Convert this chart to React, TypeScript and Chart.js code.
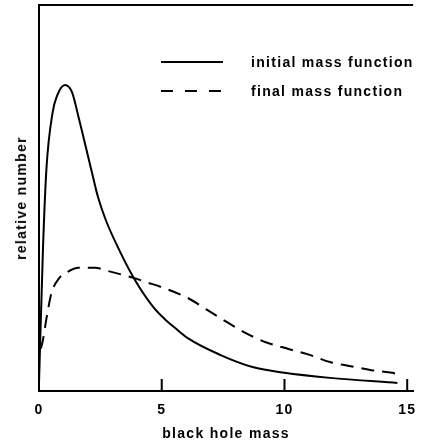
import React, { useEffect, useRef } from "react";
import { Chart, registerables } from "chart.js";

Chart.register(...registerables);

// ---- data ----
const initialMass = [0.0, 0.16, 0.3, 0.55, 0.75, 1.06, 1.34, 1.61, 2.13, 2.4, 2.72, 3.27, 3.86, 4.65, 5.16, 5.55, 6.06, 7.4, 8.7, 10.0, 11.85, 14.6];
const initialValue = [0.02, 0.365, 0.573, 0.72, 0.767, 0.793, 0.775, 0.71, 0.573, 0.503, 0.443, 0.365, 0.293, 0.218, 0.184, 0.163, 0.137, 0.093, 0.062, 0.047, 0.034, 0.021];

const finalMass = [0.08, 0.16, 0.31, 0.51, 0.83, 1.1, 1.61, 2.28, 2.8, 3.46, 3.86, 4.37, 5.08, 6.06, 6.85, 7.64, 8.43, 9.21, 10.16, 11.06, 11.85, 12.64, 13.54, 14.4, 14.6];
const finalValue = [0.11, 0.132, 0.19, 0.254, 0.293, 0.306, 0.319, 0.319, 0.311, 0.3, 0.293, 0.282, 0.267, 0.241, 0.21, 0.179, 0.15, 0.127, 0.109, 0.093, 0.075, 0.065, 0.054, 0.047, 0.044];

const seriesNames = ["initial mass function", "final mass function"];
const xTickValues = [0, 5, 10, 15];
const xTitle = "black hole mass";
const yTitle = "relative number";

const FONT = "'Liberation Sans', Arial, Helvetica, sans-serif";
const SPACING = "1.3px";

const zip = (xs: number[], ys: number[]) => xs.map((x, i) => ({ x, y: ys[i] }));

const framePlugin = {
  id: "frame",
  beforeDraw(chart: any) {
    chart.ctx.letterSpacing = SPACING;
  },
  afterDraw(chart: any) {
    const ctx = chart.ctx;
    const { left, right, top, bottom } = chart.chartArea;
    const xs = chart.scales.x;
    ctx.save();
    ctx.strokeStyle = "#000";
    ctx.lineWidth = 2;
    // top border
    ctx.beginPath();
    ctx.moveTo(left, top);
    ctx.lineTo(right, top);
    ctx.stroke();
    // inward tick marks
    xTickValues.forEach((v) => {
      if (v === 0) return;
      const px = xs.getPixelForValue(v);
      ctx.beginPath();
      ctx.moveTo(px, bottom);
      ctx.lineTo(px, bottom - 12);
      ctx.stroke();
    });
    // legend
    const lx0 = 161;
    const lx1 = 223;
    const rows = [62, 91];
    rows.forEach((ry, i) => {
      ctx.setLineDash(i === 0 ? [] : [12, 12]);
      ctx.beginPath();
      ctx.moveTo(lx0, ry);
      ctx.lineTo(lx1, ry);
      ctx.stroke();
    });
    ctx.setLineDash([]);
    ctx.fillStyle = "#000";
    ctx.font = `bold 14px ${FONT}`;
    ctx.letterSpacing = SPACING;
    ctx.textAlign = "left";
    ctx.textBaseline = "middle";
    rows.forEach((ry, i) => {
      ctx.fillText(seriesNames[i], 251, ry + 1);
    });
    ctx.restore();
  },
};

export default function App() {
  const ref = useRef<HTMLCanvasElement | null>(null);
  useEffect(() => {
    if (!ref.current) return;
    const chart = new Chart(ref.current, {
      type: "line",
      data: {
        datasets: [
          {
            label: seriesNames[0],
            data: zip(initialMass, initialValue),
            borderColor: "#000",
            borderWidth: 2,
            pointRadius: 0,
            cubicInterpolationMode: "monotone",
            fill: false,
          },
          {
            label: seriesNames[1],
            data: zip(finalMass, finalValue),
            borderColor: "#000",
            borderWidth: 2,
            borderDash: [13, 8],
            pointRadius: 0,
            cubicInterpolationMode: "monotone",
            fill: false,
          },
        ],
      },
      options: {
        animation: false,
        responsive: true,
        maintainAspectRatio: false,
        layout: { padding: { top: 5, right: 0, left: 0, bottom: 0 } },
        plugins: { legend: { display: false }, tooltip: { enabled: false } },
        scales: {
          x: {
            type: "linear",
            min: 0,
            max: 15.24,
            afterFit: (s: any) => {
              s.height = 55;
            },
            afterBuildTicks: (s: any) => {
              s.ticks = xTickValues.map((v) => ({ value: v }));
            },
            grid: { display: false, drawTicks: false },
            border: { display: true, color: "#000", width: 2 },
            ticks: {
              color: "#000",
              padding: 11,
              font: { family: FONT, size: 14, weight: "bold" },
              maxRotation: 0,
            },
            title: {
              display: true,
              text: xTitle,
              color: "#000",
              font: { family: FONT, size: 14, weight: "bold" },
              padding: { top: 0, bottom: 3 },
            },
          },
          y: {
            type: "linear",
            min: 0,
            max: 1,
            afterFit: (s: any) => {
              s.width = 39;
            },
            grid: { display: false, drawTicks: false },
            border: { display: true, color: "#000", width: 2 },
            ticks: { display: false },
            title: { display: false, text: yTitle },
          },
        },
      },
      plugins: [framePlugin],
    } as any);
    return () => chart.destroy();
  }, []);
  return (
    <div style={{ position: "fixed", left: 0, top: 0, width: 426, height: 446, background: "#fff" }}>
      <canvas ref={ref} />
      <div
        style={{
          position: "absolute",
          left: 21,
          top: 198,
          transform: "translate(-50%, -50%) rotate(-90deg)",
          whiteSpace: "nowrap",
          font: `bold 14px ${FONT}`,
          letterSpacing: SPACING,
          color: "#000",
          lineHeight: "16px",
        }}
      >
        {yTitle}
      </div>
    </div>
  );
}
